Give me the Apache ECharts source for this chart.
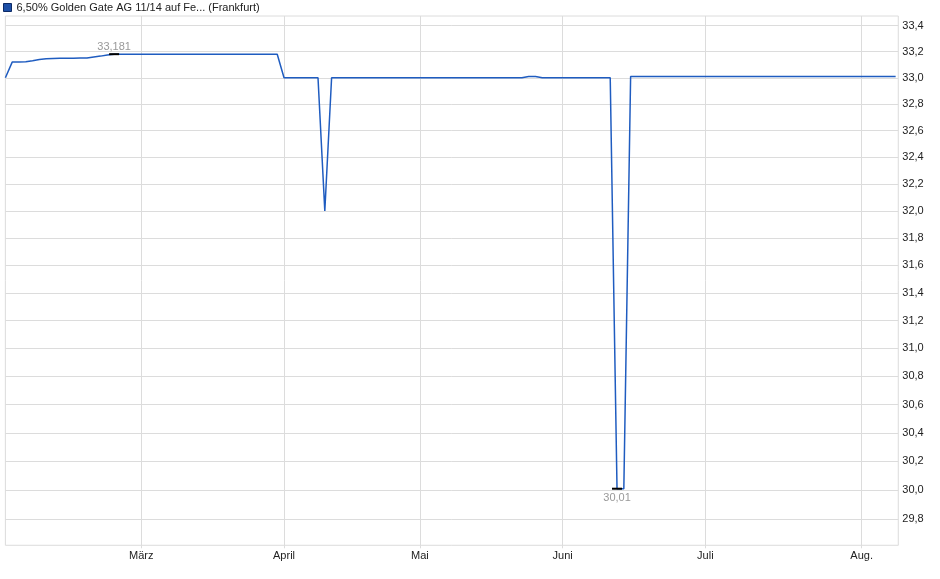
<!DOCTYPE html>
<html>
<head>
<meta charset="utf-8">
<script src="https://cdn.jsdelivr.net/npm/echarts@6/dist/echarts.min.js"></script>
<style>html,body{margin:0;padding:0;background:#fff}#c{width:940px;height:579px}</style>
</head>
<body>
<div id="c"></div>
<script>
// Trading days (2014), DD.MM.
const dates = [
  '03.02.','04.02.','05.02.','06.02.','07.02.','10.02.','11.02.','12.02.','13.02.','14.02.','17.02.','18.02.','19.02.','20.02.','21.02.','24.02.','25.02.','26.02.','27.02.','28.02.',
  '03.03.','04.03.','05.03.','06.03.','07.03.','10.03.','11.03.','12.03.','13.03.','14.03.','17.03.','18.03.','19.03.','20.03.','21.03.','24.03.','25.03.','26.03.','27.03.','28.03.','31.03.',
  '01.04.','02.04.','03.04.','04.04.','07.04.','08.04.','09.04.','10.04.','11.04.','14.04.','15.04.','16.04.','17.04.','22.04.','23.04.','24.04.','25.04.','28.04.','29.04.','30.04.',
  '02.05.','05.05.','06.05.','07.05.','08.05.','09.05.','12.05.','13.05.','14.05.','15.05.','16.05.','19.05.','20.05.','21.05.','22.05.','23.05.','26.05.','27.05.','28.05.','29.05.','30.05.',
  '02.06.','03.06.','04.06.','05.06.','06.06.','09.06.','10.06.','11.06.','12.06.','13.06.','16.06.','17.06.','18.06.','19.06.','20.06.','23.06.','24.06.','25.06.','26.06.','27.06.','30.06.',
  '01.07.','02.07.','03.07.','04.07.','07.07.','08.07.','09.07.','10.07.','11.07.','14.07.','15.07.','16.07.','17.07.','18.07.','21.07.','22.07.','23.07.','24.07.','25.07.','28.07.','29.07.','30.07.','31.07.',
  '01.08.','04.08.','05.08.','06.08.','07.08.','08.08.'
];
// Prices
const prices = [
  33.00,33.120,33.121,33.123,33.131,33.140,33.145,33.148,33.149,33.150,33.150,33.151,33.152,33.160,33.166,33.175,33.181,33.18,33.18,33.18,
  33.18,33.18,33.18,33.18,33.18,33.18,33.18,33.18,33.18,33.18,33.18,33.18,33.18,33.18,33.18,33.18,33.18,33.18,33.18,33.18,33.18,
  33.00,33.00,33.00,33.00,33.00,33.00,32.00,33.00,33.00,33.00,33.00,33.00,33.00,33.00,33.00,33.00,33.00,33.00,33.00,33.00,
  33.00,33.00,33.00,33.00,33.00,33.00,33.00,33.00,33.00,33.00,33.00,33.00,33.00,33.00,33.00,33.00,33.01,33.01,33.00,33.00,33.00,
  33.00,33.00,33.00,33.00,33.00,33.00,33.00,33.00,30.01,30.01,33.01,33.01,33.01,33.01,33.01,33.01,33.01,33.01,33.01,33.01,33.01,
  33.01,33.01,33.01,33.01,33.01,33.01,33.01,33.01,33.01,33.01,33.01,33.01,33.01,33.01,33.01,33.01,33.01,33.01,33.01,33.01,33.01,33.01,33.01,
  33.01,33.01,33.01,33.01,33.01,33.01
];
const monthNames = {'02':'Feb.','03':'März','04':'April','05':'Mai','06':'Juni','07':'Juli','08':'Aug.'};
const yTicks = [29.8,30.0,30.2,30.4,30.6,30.8,31.0,31.2,31.4,31.6,31.8,32.0,32.2,32.4,32.6,32.8,33.0,33.2,33.4];
const seriesName = '6,50% Golden Gate AG 11/14 auf Fe... (Frankfurt)';

const monthStarts = [];
dates.forEach((d, i) => { if (i > 0 && d.slice(3,5) !== dates[i-1].slice(3,5)) monthStarts.push(i); });
const points = prices.map((v, i) => [i, v]);
const comma = v => String(v).replace('.', ',');
const font = 'Arial, "Liberation Sans", sans-serif';

const chart = echarts.init(document.getElementById('c'), null, {renderer: 'canvas'});
chart.setOption({
  animation: false,
  backgroundColor: '#fff',
  textStyle: {fontFamily: font},
  legend: {
    left: 3, top: 2, itemWidth: 8, itemHeight: 8, padding: 0,
    textStyle: {fontSize: 11, color: '#222', fontFamily: font},
    data: [{name: seriesName, icon: 'rect', itemStyle: {color: '#1d4fa6', borderColor: '#0d2a66', borderWidth: 1}}]
  },
  grid: {left: 5.4, right: 41.7, top: 16, bottom: 33.7, show: true, borderColor: '#dcdcdc', borderWidth: 1},
  xAxis: {
    type: 'value', min: 0, max: 131.39,
    axisLine: {show: false},
    axisTick: {show: true, customValues: monthStarts, length: 3, lineStyle: {color: '#dcdcdc'}},
    axisLabel: {customValues: monthStarts, formatter: v => monthNames[dates[Math.round(v)].slice(3,5)], fontSize: 11, color: '#222', margin: 5, fontFamily: font},
    splitLine: {show: true, lineStyle: {color: '#dcdcdc', width: 1}}
  },
  yAxis: {
    type: 'log', position: 'right', min: 29.62, max: 33.475,
    axisLine: {show: false},
    axisTick: {show: false, customValues: yTicks},
    axisLabel: {customValues: yTicks, formatter: v => v.toFixed(1).replace('.', ','), fontSize: 11, color: '#222', margin: 4, fontFamily: font},
    splitLine: {show: true, lineStyle: {color: '#dcdcdc', width: 1}}
  },
  series: [{
    name: seriesName, type: 'line', data: points, showSymbol: false,
    lineStyle: {color: '#1f5cc0', width: 1.5},
    itemStyle: {color: '#1f5cc0'},
    markPoint: {
      symbol: 'rect', symbolSize: [10, 2], itemStyle: {color: '#000'},
      data: [
        {type: 'max', label: {show: true, position: 'top', distance: 1, color: '#999', fontSize: 11, fontFamily: font, formatter: p => comma(p.value)}},
        {type: 'min', label: {show: true, position: 'bottom', distance: 3, color: '#999', fontSize: 11, fontFamily: font, formatter: p => comma(p.value)}}
      ]
    }
  }]
});
</script>
</body>
</html>
